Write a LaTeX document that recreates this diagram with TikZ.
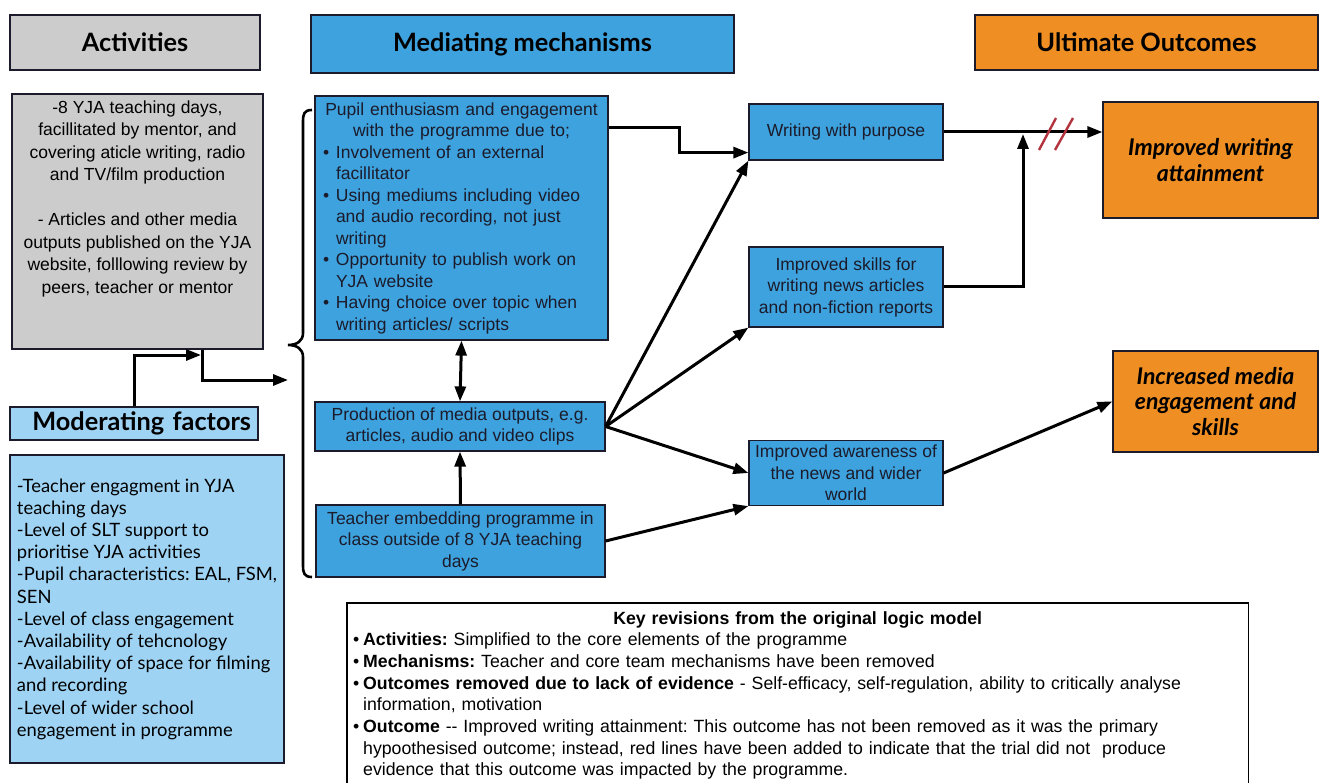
\documentclass[tikz,border=0pt]{standalone}
\usepackage{fontspec}
\setmainfont{Liberation Sans}
\newfontfamily\headfont{Lato}
\usetikzlibrary{arrows.meta,positioning}
\definecolor{LogicGrey}{HTML}{CCCCCC}
\definecolor{LogicBlue}{HTML}{3DA2DD}
\definecolor{LogicSky}{HTML}{9ED3F4}
\definecolor{LogicOrange}{HTML}{EF8E22}
\definecolor{LogicInk}{HTML}{1B1B2B}
\definecolor{LogicRed}{HTML}{B3343F}
\newcommand{\mechitem}[1]{\par\noindent\hangindent=15pt\hangafter=1\makebox[15pt][l]{\hspace{2pt}\textbullet}#1\par}
\newcommand{\keyitem}[1]{\par\noindent\hangindent=11pt\hangafter=1\makebox[11pt][l]{\hspace{1pt}\textbullet}#1\par}

\begin{document}
\frenchspacing
\begin{tikzpicture}[
	x=1pt, y=-1pt,
	headbox/.style={draw=LogicInk, line width=1.2pt, inner sep=0pt, font=\headfont\bfseries\fontsize{25.3}{29}\selectfont},
	mechbox/.style={draw=LogicInk, line width=1.2pt, fill=LogicBlue, align=center, inner sep=2pt, text=LogicInk, font=\fontsize{17.5}{21.5}\selectfont},
	outbox/.style={draw=LogicInk, line width=1.2pt, fill=LogicOrange, align=center, font=\headfont\bfseries\itshape\fontsize{23}{25.5}\selectfont},
	flow/.style={-{Triangle[length=15pt,width=11pt]}, line width=3pt},
	twoway/.style={{Triangle[length=15pt,width=11pt]}-{Triangle[length=15pt,width=11pt]}, line width=3pt},
	bracestroke/.style={line width=2.6pt},
	redcut/.style={draw=LogicRed, line width=2.4pt}
]
\useasboundingbox (0,0) rectangle (1319,783);

\node[headbox, fill=LogicGrey, minimum width=250pt, minimum height=55pt] (acthead) at (135,42.5) {Activities};
\node[headbox, fill=LogicBlue, minimum width=423pt, minimum height=58pt] (medhead) at (522.5,44) {Mediating mechanisms};
\node[headbox, fill=LogicOrange, minimum width=343pt, minimum height=55pt] (outhead) at (1146.5,42.5) {Ultimate Outcomes};

\node[draw=LogicInk, line width=1.2pt, fill=LogicGrey, minimum width=251pt, minimum height=255pt] (act) at (137.5,221.5) {};
\node[align=center, inner sep=0pt, font=\fontsize{17.5}{22.5}\selectfont, below=7pt of act.north] (acttxt) {-8 YJA teaching days,\\ facillitated by mentor, and\\ covering aticle writing, radio\\ and TV/film production\\[22.5pt] - Articles and other media\\ outputs published on the YJA\\ website, folllowing review by\\ peers, teacher or mentor};

\node[headbox, fill=LogicSky, minimum width=248pt, minimum height=33pt, text width=234pt, align=right] (modhead) at (134,423.5) {Moderating factors};
\node[draw=LogicInk, line width=1.2pt, fill=LogicSky, minimum width=274pt, minimum height=308pt, align=left, font=\headfont\fontsize{18.4}{22.2}\selectfont] (modlist) at (147,609) {-Teacher engagment in YJA\\ teaching days\\ -Level of SLT support to\\ prioritise YJA activities\\ -Pupil characteristics: EAL, FSM,\\ SEN\\ -Level of class engagement\\ -Availability of tehcnology\\ -Availability of space for filming\\ and recording\\ -Level of wider school\\ engagement in programme};

\node[mechbox, text width=281pt, minimum height=244pt, inner xsep=6pt, inner ysep=0pt, align=left] (pupil) at (461.5,218) {{\centering Pupil enthusiasm and engagement\\ with the programme due to;\par}\mechitem{Involvement of an external\newline facillitator}\mechitem{Using mediums including video\newline and audio recording, not just\newline writing}\mechitem{Opportunity to publish work on\newline YJA website}\mechitem{Having choice over topic when\newline writing articles/ scripts}};
\node[mechbox, minimum width=290pt, minimum height=49pt] (prod) at (460,426.5) {Production of media outputs, e.g.\\ articles, audio and video clips};
\node[mechbox, minimum width=289pt, minimum height=72pt] (teach) at (460.5,541) {Teacher embedding programme in\\ class outside of 8 YJA teaching\\ days};

\node[mechbox, minimum width=194pt, minimum height=56pt] (purpose) at (846,132) {Writing with purpose};
\node[mechbox, minimum width=194pt, minimum height=80pt] (skills) at (846,287) {Improved skills for\\ writing news articles\\ and non-fiction reports};
\node[mechbox, minimum width=194pt, minimum height=65pt, inner ysep=0pt] (aware) at (846,473) {Improved awareness of\\ the news and wider\\ world};

\node[outbox, minimum width=215pt, minimum height=116pt] (writ) at (1210.5,160) {Improved writing\\ attainment};
\node[outbox, minimum width=205pt, minimum height=101pt] (media) at (1215.5,401.5) {Increased media\\ engagement and\\ skills};

\node[anchor=north west, inner xsep=5pt, inner ysep=8pt, text width=891pt, align=left, font=\fontsize{17.7}{21.7}\selectfont] (key) at (347,603) {{\centering\bfseries Key revisions from the original logic model\par}\keyitem{\textbf{Activities:} Simplified to the core elements of the programme}\keyitem{\textbf{Mechanisms:} Teacher and core team mechanisms have been removed}\keyitem{\textbf{Outcomes removed due to lack of evidence} - Self-efficacy, self-regulation, ability to critically analyse\newline information, motivation}\keyitem{\textbf{Outcome} -{}- Improved writing attainment: This outcome has not been removed as it was the primary\newline hypoothesised outcome; instead, red lines have been added to indicate that the trial did not\ \ produce\newline evidence that this outcome was impacted by the programme.}};
\coordinate (pagebot) at (0,783);
\draw[line width=1.4pt] (key.west |- pagebot) -- (key.north west) -- (key.north east) -- (key.east |- pagebot);

\coordinate (junc) at (202,380);
\coordinate (bracein) at (288,380);
\coordinate (modjoin) at (201,355);
\coordinate (bracetip) at (288,345);
\coordinate (wmerge) at (1023,134);

\draw[flow] (act.south -| junc) -- (junc) -- (bracein);
\draw[flow] (modhead.north) |- (modjoin);
\draw[bracestroke] (312,110) .. controls (304,110) and (303,114) .. (303,122) -- (303,333) .. controls (303,341) and (297,345) .. (bracetip) .. controls (297,345) and (303,349) .. (303,357) -- (303,565) .. controls (303,573) and (304,577) .. (312,577);

\draw[flow] ([yshift=-32pt]pupil.north east) -- ++(71,0) |- ([yshift=8pt]purpose.south west);
\draw[twoway] (pupil.south) -- (prod.north);
\draw[flow] (teach.north) -- (prod.south);
\draw[flow] (prod.east) -- (purpose.south west);
\draw[flow] (prod.east) -- (skills.south west);
\draw[flow] (prod.east) -- (aware.west);
\draw[flow] (teach.east) -- (aware.south west);
\draw[flow] (purpose.east) -- (purpose.east -| writ.west);
\draw[flow] (skills.east) -| (wmerge);
\draw[flow] (aware.east) -- (media.west);
\draw[redcut] (1039,150) -- (1056,118);
\draw[redcut] (1055,150) -- (1073,118);
\end{tikzpicture}
\end{document}
